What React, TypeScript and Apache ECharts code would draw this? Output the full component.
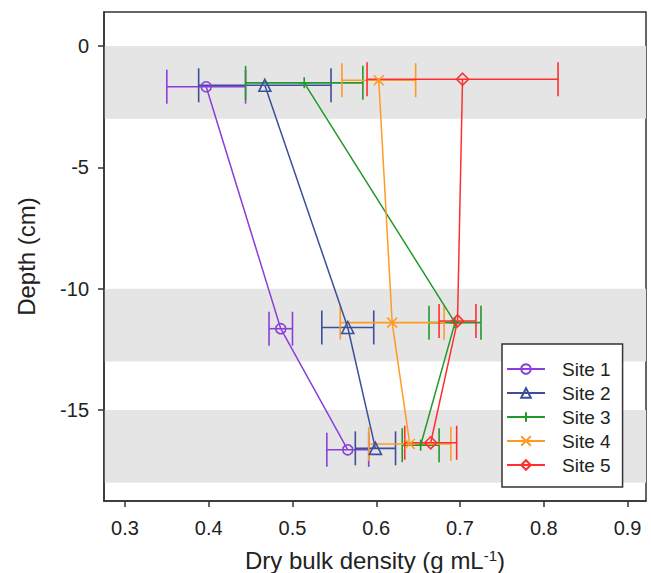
import React, { useEffect, useRef } from "react";
import * as echarts from "echarts";

const siteNames = ["Site 1", "Site 2", "Site 3", "Site 4", "Site 5"];
const siteColors = ["#8a3fdc", "#3b4f9c", "#23992b", "#ff9a26", "#ff2f2f"];

// sampled depth (cm) per site, top -> bottom
const depthSite1 = [-1.68, -11.65, -16.64];
const depthSite2 = [-1.62, -11.6, -16.58];
const depthSite3 = [-1.52, -11.4, -16.45];
const depthSite4 = [-1.41, -11.4, -16.4];
const depthSite5 = [-1.37, -11.33, -16.35];

// mean dry bulk density (g/mL)
const meanSite1 = [0.397, 0.486, 0.566];
const meanSite2 = [0.467, 0.566, 0.599];
const meanSite3 = [0.514, 0.694, 0.653];
const meanSite4 = [0.603, 0.619, 0.64];
const meanSite5 = [0.703, 0.697, 0.665];

// error (half-width)
const errSite1 = [0.047, 0.014, 0.025];
const errSite2 = [0.079, 0.031, 0.024];
const errSite3 = [0.07, 0.031, 0.022];
const errSite4 = [0.044, 0.062, 0.049];
const errSite5 = [0.114, 0.022, 0.031];

// shaded depth bands [top, bottom]
const bands = [
  [0, -3],
  [-10, -13],
  [-15, -18],
];

const xTicks = [0.3, 0.4, 0.5, 0.6, 0.7, 0.8, 0.9];
const yTicks = [0, -5, -10, -15];

const depths = [depthSite1, depthSite2, depthSite3, depthSite4, depthSite5];
const means = [meanSite1, meanSite2, meanSite3, meanSite4, meanSite5];
const errs = [errSite1, errSite2, errSite3, errSite4, errSite5];

const plusPath = "path://M5,0 L5,10 M0,5 L10,5";
const crossPath = "path://M0,0 L10,10 M10,0 L0,10";
const symbols = ["circle", "triangle", plusPath, crossPath, "diamond"];
const symbolSizes = [10, 12, 11, 10, 12];

const FONT = "'Liberation Sans', Arial, sans-serif";

export default function App() {
  const ref = useRef<HTMLDivElement>(null);

  useEffect(() => {
    if (!ref.current) return;
    const chart = echarts.init(ref.current, null, { renderer: "svg" });

    const lineSeries = siteNames.map((name, i) => ({
      name,
      type: "line",
      data: means[i].map((m, j) => [m, depths[i][j]]),
      symbol: symbols[i],
      symbolSize: symbolSizes[i],
      showSymbol: true,
      lineStyle: { color: siteColors[i], width: 1.5 },
      itemStyle: {
        color: "rgba(255,255,255,0)",
        borderColor: siteColors[i],
        borderWidth: 1.6,
      },
      z: 4,
      silent: true,
      ...(i === 0
        ? {
            markArea: {
              silent: true,
              itemStyle: { color: "#e5e5e5" },
              data: bands.map((b) => [{ yAxis: b[0] }, { yAxis: b[1] }]),
              z: 0,
            },
          }
        : {}),
    }));

    const errSeries = siteNames.map((name, i) => ({
      name: name + " error",
      type: "custom",
      data: means[i].map((m, j) => [m - errs[i][j], m + errs[i][j], depths[i][j]]),
      encode: { x: [0, 1], y: 2 },
      z: 3,
      silent: true,
      renderItem: (params: any, api: any) => {
        const lo = api.value(0);
        const hi = api.value(1);
        const y = api.value(2);
        const p1 = api.coord([lo, y]);
        const p2 = api.coord([hi, y]);
        const h = 17;
        const style = { stroke: siteColors[i], lineWidth: 1.6, fill: "none" };
        return {
          type: "group",
          children: [
            { type: "line", shape: { x1: p1[0], y1: p1[1], x2: p2[0], y2: p2[1] }, style },
            { type: "line", shape: { x1: p1[0], y1: p1[1] - h, x2: p1[0], y2: p1[1] + h }, style },
            { type: "line", shape: { x1: p2[0], y1: p2[1] - h, x2: p2[0], y2: p2[1] + h }, style },
          ],
        };
      },
    }));

    chart.setOption({
      animation: false,
      backgroundColor: "#fff",
      textStyle: { fontFamily: FONT },
      grid: {
        left: 104,
        right: 5,
        top: 12,
        bottom: 72,
        show: true,
        borderColor: "#333",
        borderWidth: 1.5,
        backgroundColor: "transparent",
        outerBoundsMode: "none",
        containLabel: false,
      },
      legend: {
        orient: "vertical",
        left: 502,
        top: 344,
        data: siteNames,
        itemWidth: 38,
        itemHeight: 12,
        itemGap: 4,
        padding: [15, 12, 12, 4],
        borderColor: "#333",
        borderWidth: 1.5,
        borderRadius: 0,
        backgroundColor: "#fff",
        selectedMode: false,
        textStyle: {
          fontFamily: FONT,
          fontSize: 19,
          color: "#222",
          lineHeight: 20,
          padding: [0, 0, 0, 12],
        },
        z: 10,
      },
      xAxis: {
        type: "value",
        min: 0.275,
        max: 0.922,
        name: "Dry bulk density (g mL{sup|-1})",
        nameLocation: "middle",
        nameGap: 47,
        nameTextStyle: {
          fontFamily: FONT,
          fontSize: 24,
          color: "#222",
          rich: {
            sup: { fontFamily: FONT, fontSize: 15, color: "#222", verticalAlign: "top", lineHeight: 15 },
          },
        },
        axisLine: { show: true, onZero: false, lineStyle: { color: "#333", width: 1.5 } },
        axisTick: {
          show: true,
          length: 6,
          lineStyle: { color: "#333", width: 1.5 },
          customValues: xTicks,
        },
        axisLabel: {
          fontFamily: FONT,
          fontSize: 20,
          color: "#222",
          margin: 17,
          customValues: xTicks,
          formatter: (v: number) => v.toFixed(1),
        },
        splitLine: { show: false },
      },
      yAxis: {
        type: "value",
        min: -18.75,
        max: 1.4,
        name: "Depth (cm)",
        nameLocation: "middle",
        nameGap: 66,
        nameRotate: 90,
        nameTextStyle: { fontFamily: FONT, fontSize: 24, color: "#222" },
        axisLine: { show: true, onZero: false, lineStyle: { color: "#333", width: 1.5 } },
        axisTick: {
          show: true,
          length: 6,
          lineStyle: { color: "#333", width: 1.5 },
          customValues: yTicks,
        },
        axisLabel: {
          fontFamily: FONT,
          fontSize: 20,
          color: "#222",
          margin: 15,
          customValues: yTicks,
          formatter: (v: number) => String(v),
        },
        splitLine: { show: false },
      },
      series: [...lineSeries, ...errSeries],
    });

    return () => chart.dispose();
  }, []);

  return (
    <div
      ref={ref}
      style={{ position: "absolute", left: 0, top: 0, width: 651, height: 573 }}
    />
  );
}
